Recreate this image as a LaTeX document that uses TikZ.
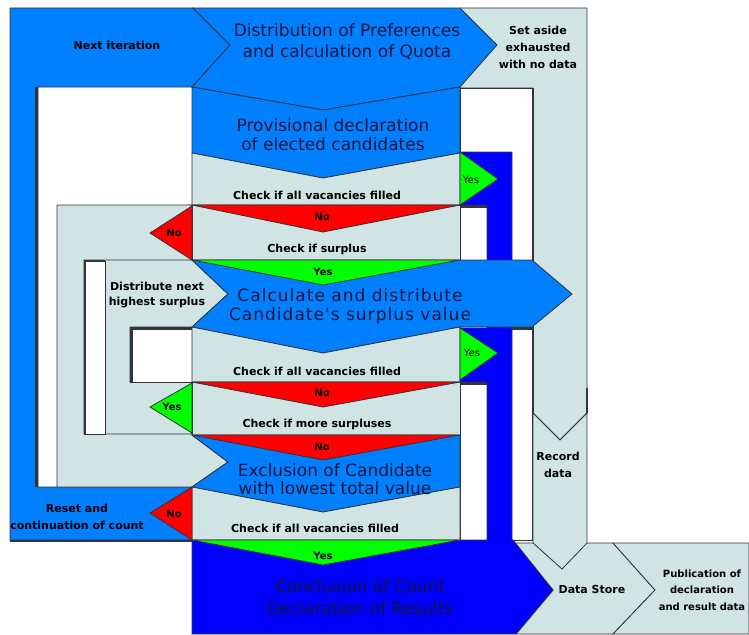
\documentclass[tikz,border=0pt]{standalone}
\usepackage{fontspec}
\setmainfont{DejaVu Sans}
\newfontfamily\spacedfont[LetterSpace=6]{DejaVu Sans}
\definecolor{stageblue}{RGB}{0,128,255}
\definecolor{finalblue}{RGB}{0,0,255}
\definecolor{checkgray}{RGB}{208,228,228}
\definecolor{nored}{RGB}{255,0,0}
\definecolor{yesgreen}{RGB}{0,255,0}
\definecolor{edge}{RGB}{51,51,60}
\definecolor{navy}{RGB}{20,20,60}
\tikzset{
      stage/.style={draw=edge, fill=stageblue, line width=0.8},
      final/.style={draw=edge, fill=finalblue, line width=0.8},
      check/.style={draw=edge, fill=checkgray, line width=0.8},
      nobox/.style={draw=edge, fill=nored, line width=0.8},
      yesbox/.style={draw=edge, fill=yesgreen, line width=0.8},
      hole/.style={draw=edge, fill=white, line width=0.8},
      shade/.style={draw=edge, line width=2.5},
      bigtext/.style={font=\fontsize{17}{21}\selectfont, text=navy, align=center, inner sep=0},
      calctext/.style={font=\spacedfont\fontsize{17}{19}\selectfont, text=navy, align=center, inner sep=0},
      smalltext/.style={font=\fontsize{11}{17}\selectfont\bfseries, align=center, inner sep=0},
      tagtext/.style={font=\fontsize{10}{12}\selectfont\bfseries, inner sep=0},
}

\begin{document}
\begin{tikzpicture}[x=1pt, y=-1pt]
        \useasboundingbox (0,0) rectangle (749,634);
        \fill[white] (0,0) rectangle (749,634);

        % outer loops on the left
        \draw[stage] (10,8) -- (193,8) -- (230,45) -- (192,87) -- (38,87) -- (38,487) -- (192,487) -- (192,540) -- (10,540) -- cycle;
        \draw[shade] (36.5,87) -- (36.5,487);
        \draw[shade] (10,541) -- (192,541);
        \draw[check] (57,205) -- (192,205) -- (192,435) -- (228,462) -- (192,487) -- (57,487) -- cycle;
        \draw[check] (84,260) -- (192,260) -- (228,294) -- (192,327) -- (130,327) -- (130,382) -- (192,382) -- (192,434) -- (84,434) -- cycle;
        \draw[hole] (84,261) rectangle (105,434);
        \draw[shade] (85,434) -- (85,261) -- (105,261);
        \draw[hole] (130,327) rectangle (192,382);
        \draw[shade] (131.5,382) -- (131.5,328.5) -- (192,328.5);

        % right side
        \draw[check] (460,8) -- (587,8) -- (587,413) -- (560,440) -- (533,413) -- (533,88) -- (460,88) -- cycle;
        \draw[hole] (460,88) rectangle (533,540);
        \draw[draw=edge, line width=1.6] (533,88) -- (533,540);
        \draw[check] (513,543) -- (613,543) -- (655,590) -- (613,634) -- (516,634) -- (553,590) -- cycle;
        \draw[check] (613,543) -- (749,543) -- (749,634) -- (613,634) -- (655,590) -- cycle;
        \draw[check] (533,413) -- (560,440) -- (587,413) -- (587,543) -- (562,569) -- (533,543) -- cycle;
        \draw[draw=edge, line width=1.6] (587,388) -- (587,413);
        \draw[final] (460,152) -- (512,152) -- (512,540) -- (513,540) -- (553,590) -- (516,634) -- (192,634) -- (192,540) -- (487,540) -- (487,382) -- (460,382) -- (460,328) -- (487,328) -- (487,205) -- (460,205) -- cycle;
        \draw[shade] (460,206.5) -- (487,206.5);
        \draw[shade] (460,383.5) -- (487,383.5);
        \draw[shade] (512,328.5) -- (532,328.5);

        % main column
        \draw[stage] (193,8) -- (460,8) -- (497,45) -- (460,87) -- (323,110) -- (192,87) -- (230,45) -- cycle;
        \draw[stage] (192,87) -- (323,110) -- (460,87) -- (460,153) -- (323,178) -- (192,153) -- cycle;
        \draw[check] (192,153) -- (323,178) -- (460,153) -- (460,205) -- (192,205) -- cycle;
        \draw[check] (192,205) rectangle (460,260);
        \draw[stage] (192,260) -- (532,260) -- (572,294) -- (532,327) -- (460,327) -- (323,353) -- (192,327) -- (228,294) -- cycle;
        \draw[check] (192,327) -- (323,353) -- (460,327) -- (460,382) -- (192,382) -- cycle;
        \draw[check] (192,382) rectangle (460,435);
        \draw[stage] (192,435) -- (460,435) -- (460,487) -- (323,512) -- (192,487) -- (228,462) -- cycle;
        \draw[check] (192,487) -- (323,512) -- (460,487) -- (460,540) -- (192,540) -- cycle;

        % yes and no
        \draw[yesbox] (460,152) -- (498,179) -- (460,205) -- cycle;
        \draw[nobox] (192,205) -- (460,205) -- (323,232) -- cycle;
        \draw[nobox] (192,206) -- (150,233) -- (192,260) -- cycle;
        \draw[yesbox] (192,260) -- (460,260) -- (323,285) -- cycle;
        \draw[yesbox] (460,328) -- (498,353) -- (460,380) -- cycle;
        \draw[nobox] (192,382) -- (460,382) -- (323,407) -- cycle;
        \draw[yesbox] (192,383) -- (150,407) -- (192,433) -- cycle;
        \draw[nobox] (192,435) -- (460,435) -- (323,460) -- cycle;
        \draw[nobox] (192,487) -- (150,513) -- (192,540) -- cycle;
        \draw[yesbox] (192,540) -- (460,540) -- (323,565) -- cycle;

        \node[smalltext] (nextit) at (117,45) {Next iteration};
        \node[bigtext] (distrib) at (347,42) {Distribution of Preferences\\and calculation of Quota};
        \node[smalltext] (setaside) at (538,47) {Set aside\\exhausted\\with no data};
        \node[bigtext, font=\fontsize{17}{19}\selectfont] (provis) at (333,135) {Provisional declaration\\of elected candidates};
        \node[smalltext] (chk1) at (317,195) {Check if all vacancies filled};
        \node[tagtext, font=\fontsize{10}{12}\selectfont] (yes1) at (471,180) {Yes};
        \node[tagtext] (no1) at (322,217) {No};
        \node[tagtext] (no2) at (174,233) {No};
        \node[smalltext] (chk2) at (317,249) {Check if surplus};
        \node[tagtext] (yes2) at (323,272) {Yes};
        \node[smalltext, font=\fontsize{11}{15}\selectfont\bfseries] (distnext) at (157,295) {Distribute next\\highest surplus};
        \node[calctext] (calc) at (350,306) {Calculate and distribute\\Candidate's surplus value};
        \node[smalltext] (chk3) at (317,371) {Check if all vacancies filled};
        \node[tagtext, font=\fontsize{10}{12}\selectfont] (yes3) at (472,353) {Yes};
        \node[tagtext] (no3) at (322,393) {No};
        \node[tagtext] (yes4) at (172,407) {Yes};
        \node[smalltext] (chk4) at (317,424) {Check if more surpluses};
        \node[tagtext] (no4) at (322,447) {No};
        \node[bigtext, font=\fontsize{17}{18}\selectfont] (exclu) at (335,479) {Exclusion of Candidate\\with lowest total value};
        \node[smalltext] (reset) at (77,517) {Reset and\\continuation of count};
        \node[tagtext] (no5) at (174,514) {No};
        \node[smalltext] (chk5) at (315,528) {Check if all vacancies filled};
        \node[tagtext] (yes5) at (323,556) {Yes};
        \node[bigtext, font=\fontsize{17}{22}\selectfont] (concl) at (360,597) {Conclusion of Count\\Declaration of Results};
        \node[smalltext] (record) at (558,465) {Record\\data};
        \node[smalltext] (store) at (592,589) {Data Store};
        \node[smalltext, font=\fontsize{10}{16.5}\selectfont\bfseries] (publ) at (702,590) {Publication of\\declaration\\and result data};

    \end{tikzpicture}
\end{document}
